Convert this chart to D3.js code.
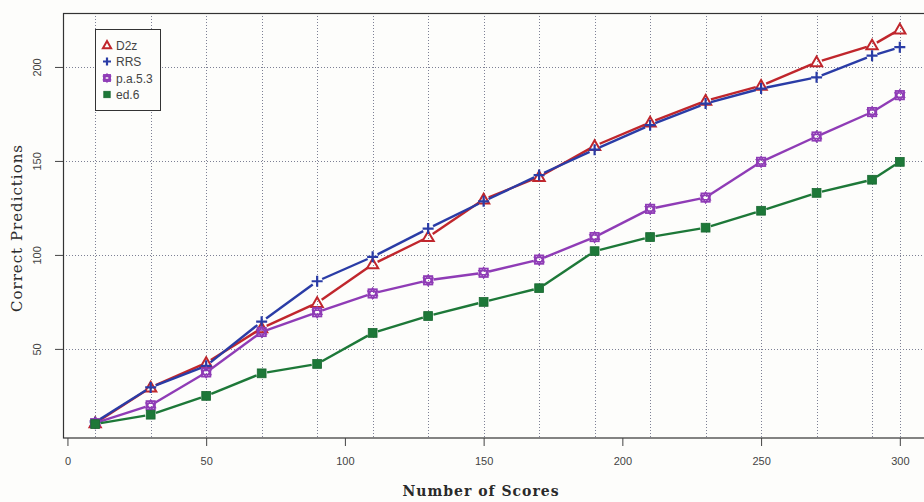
<!DOCTYPE html>
<html><head><meta charset="utf-8">
<script src="https://cdn.jsdelivr.net/npm/d3@7"></script>
<style>body{margin:0;background:#fdfdfb;} svg{display:block;}</style>
</head><body>
<svg id="chart" width="924" height="502"></svg>
<script>
const scores = [10,30,50,70,90,110,130,150,170,190,210,230,250,270,290,300];
const d2z  = [10.5,29.5,42.5,61,74.5,95,109.5,129.5,141.5,158,170.5,182,190,202.5,211.5,220];
const rrs  = [11,29.5,41,64.5,86,99,114,128.5,142.5,156,169,180.5,188.5,194.5,206,210.5];
const pa53 = [10.5,20,37.5,59,69.5,79.5,86.5,90.5,97.5,109.5,124.5,130.5,149.5,163,176,185];
const ed6  = [10,15,25,37,42,58.5,67.5,75,82.3,102,109.5,114.5,123.5,133,140,149.5];
const xTicks = [0,50,100,150,200,250,300];
const yTicks = [50,100,150,200];
const seriesNames = ["D2z","RRS","p.a.5.3","ed.6"];

const series = [
  {name: seriesNames[0], values: d2z,  color: "#c0262c", shape: "tri"},
  {name: seriesNames[1], values: rrs,  color: "#2a3ca6", shape: "plus"},
  {name: seriesNames[2], values: pa53, color: "#8f3cb6", shape: "sqstar"},
  {name: seriesNames[3], values: ed6,  color: "#1d7838", shape: "fsq"}
];

const svg = d3.select("#chart");
const x = d3.scaleLinear().domain([-1.6, 311.6]).range([63, 932]);
const y = d3.scaleLinear().domain([2.6, 228.7]).range([438, 13]);

// grid
const grid = svg.append("g").attr("stroke", "#7d8094").attr("stroke-width", 1).attr("stroke-dasharray", "1,2");
grid.selectAll(".vg").data(scores).join("line")
  .attr("x1", d => Math.round(x(d)) + 0.5).attr("x2", d => Math.round(x(d)) + 0.5)
  .attr("y1", 13).attr("y2", 438);
grid.selectAll(".hg").data(yTicks).join("line")
  .attr("y1", d => Math.round(y(d)) + 0.5).attr("y2", d => Math.round(y(d)) + 0.5)
  .attr("x1", 63).attr("x2", 924);

// box
svg.append("rect").attr("x", 63.5).attr("y", 13.5).attr("width", 900).attr("height", 424.5)
  .attr("fill", "none").attr("stroke", "#333").attr("stroke-width", 1.2);

// axes
const xAxis = svg.append("g").attr("transform", "translate(0,438)")
  .call(d3.axisBottom(x).tickValues(xTicks).tickSize(8).tickPadding(11).tickFormat(d3.format("d")));
xAxis.select(".domain").remove();
xAxis.selectAll("line").attr("stroke", "#444");
xAxis.selectAll("text").attr("fill", "#444").style("font-family", "Liberation Sans, Arial, sans-serif").style("font-size", "11px");

const yAxis = svg.append("g").attr("transform", "translate(63,0)")
  .call(d3.axisLeft(y).tickValues(yTicks).tickSize(8).tickPadding(0).tickFormat(d3.format("d")));
yAxis.select(".domain").remove();
yAxis.selectAll("line").attr("stroke", "#444");
yAxis.selectAll("text").attr("fill", "#444").style("font-family", "Liberation Sans, Arial, sans-serif").style("font-size", "11px")
  .attr("text-anchor", "middle").attr("x", 0).attr("dy", 0)
  .attr("transform", "translate(-22,0) rotate(-90)");

// axis titles
svg.append("text").attr("x", 481).attr("y", 496).attr("text-anchor", "middle")
  .style("font-family", "DejaVu Serif, Liberation Serif, serif").style("font-size", "14px").style("font-weight", "bold")
  .style("letter-spacing", "1px").attr("fill", "#2a2a2a").text("Number of Scores");
svg.append("text").attr("transform", "translate(22,228) rotate(-90)").attr("text-anchor", "middle")
  .style("font-family", "DejaVu Serif, Liberation Serif, serif").style("font-size", "15px")
  .style("letter-spacing", "1px").attr("fill", "#2a2a2a").text("Correct Predictions");

function drawMarker(g, shape, color, cx, cy, s) {
  if (shape === "tri") {
    g.append("path").attr("d", d3.symbol(d3.symbolTriangle, s * s * 0.45)())
      .attr("transform", `translate(${cx},${cy + 0.8})`)
      .attr("fill", "none").attr("stroke", color).attr("stroke-width", 2);
  } else if (shape === "plus") {
    g.append("path").attr("d", `M${cx - s / 2},${cy}H${cx + s / 2}M${cx},${cy - s / 2}V${cy + s / 2}`)
      .attr("stroke", color).attr("stroke-width", 2.2).attr("fill", "none");
  } else if (shape === "sqstar") {
    const h = s * 0.38;
    g.append("rect").attr("x", cx - h).attr("y", cy - h).attr("width", 2 * h).attr("height", 2 * h)
      .attr("fill", "none").attr("stroke", color).attr("stroke-width", 1.8);
    g.append("path").attr("d", `M${cx - h * 1.1},${cy + h * 0.5}L${cx},${cy - h * 1.25}L${cx + h * 1.1},${cy + h * 0.5}Z M${cx - h * 1.1},${cy - h * 0.5}L${cx},${cy + h * 1.25}L${cx + h * 1.1},${cy - h * 0.5}Z`)
      .attr("fill", "none").attr("stroke", color).attr("stroke-width", 1.5);
  } else {
    const h = s * 0.4;
    g.append("rect").attr("x", cx - h).attr("y", cy - h).attr("width", 2 * h).attr("height", 2 * h)
      .attr("fill", color).attr("stroke", d3.color(color).darker(0.4)).attr("stroke-width", 0.8);
  }
}

// series lines with gaps near markers
const gap = 5.5;
series.forEach(sr => {
  const g = svg.append("g");
  const pts = scores.map((d, i) => [x(d), y(sr.values[i])]);
  for (let i = 0; i < pts.length - 1; i++) {
    const [x1, y1] = pts[i], [x2, y2] = pts[i + 1];
    const len = Math.hypot(x2 - x1, y2 - y1);
    if (len <= 2 * gap) continue;
    const ux = (x2 - x1) / len, uy = (y2 - y1) / len;
    g.append("line").attr("x1", x1 + ux * gap).attr("y1", y1 + uy * gap)
      .attr("x2", x2 - ux * gap).attr("y2", y2 - uy * gap)
      .attr("stroke", sr.color).attr("stroke-width", 2.4).attr("stroke-linecap", "butt");
  }
  pts.forEach(p => drawMarker(g, sr.shape, sr.color, p[0], p[1], 11));
});

// legend
const lg = svg.append("g");
lg.append("rect").attr("x", 95.5).attr("y", 29.5).attr("width", 65).attr("height", 81)
  .attr("fill", "#fdfdfb").attr("stroke", "#333").attr("stroke-width", 1);
series.forEach((sr, i) => {
  const cy = 45 + i * 16.5;
  drawMarker(lg, sr.shape, sr.color, 107, cy, 8);
  lg.append("text").attr("x", 116).attr("y", cy + 4.5)
    .style("font-family", "Liberation Sans, Arial, sans-serif").style("font-size", "12px")
    .attr("fill", "#444").text(sr.name);
});
</script>
</body></html>
